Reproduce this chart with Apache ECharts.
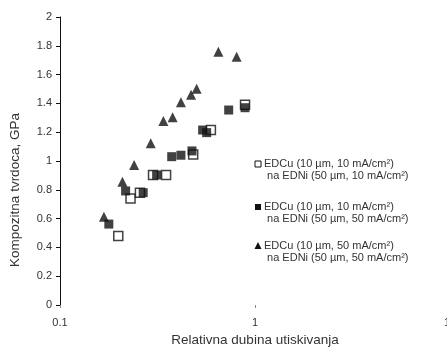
<!DOCTYPE html>
<html>
<head>
<meta charset="utf-8">
<script src="https://cdn.jsdelivr.net/npm/echarts@6/dist/echarts.min.js"></script>
<style>
html,body{margin:0;padding:0;background:#fff;}
#chart{width:447px;height:351px;}
</style>
</head>
<body>
<div id="chart"></div>
<script>
// Series 1: EDCu (10 µm, 10 mA/cm²) na EDNi (50 µm, 10 mA/cm²) – open squares
const openX = [0.199, 0.230, 0.257, 0.300, 0.350, 0.482, 0.594, 0.889];
const openY = [0.479, 0.740, 0.780, 0.903, 0.903, 1.045, 1.215, 1.390];
// Series 2: EDCu (10 µm, 10 mA/cm²) na EDNi (50 µm, 50 mA/cm²) – filled squares
const fillX = [0.178, 0.217, 0.267, 0.313, 0.374, 0.417, 0.475, 0.539, 0.565, 0.733, 0.889];
const fillY = [0.562, 0.792, 0.780, 0.903, 1.030, 1.040, 1.070, 1.215, 1.197, 1.354, 1.370];
// Series 3: EDCu (10 µm, 50 mA/cm²) na EDNi (50 µm, 50 mA/cm²) – triangles
const triX = [0.168, 0.209, 0.240, 0.292, 0.339, 0.378, 0.417, 0.470, 0.502, 0.649, 0.805];
const triY = [0.613, 0.856, 0.972, 1.123, 1.278, 1.303, 1.408, 1.460, 1.502, 1.759, 1.724];

const seriesNames = [
  'EDCu (10 µm, 10 mA/cm²)\nna EDNi (50 µm, 10 mA/cm²)',
  'EDCu (10 µm, 10 mA/cm²)\nna EDNi (50 µm, 50 mA/cm²)',
  'EDCu (10 µm, 50 mA/cm²)\nna EDNi (50 µm, 50 mA/cm²)'
];
const xAxisTitle = 'Relativna dubina utiskivanja';
const yAxisTitle = 'Kompozitna tvrdoca, GPa';

function pairs(xs, ys){ return xs.map((x,i)=>[x, ys[i]]); }

const FONT = 'Liberation Sans, Arial, sans-serif';
const chart = echarts.init(document.getElementById('chart'), null, {renderer:'canvas'});

const legendTop = [164, 207, 246];
const legendGraphics = [];
legendTop.forEach((y, i) => {
  let marker;
  if (i === 0) {
    marker = {type:'rect', shape:{x:255, y:y-3, width:6, height:6}, style:{fill:'#fff', stroke:'#111', lineWidth:1}};
  } else if (i === 1) {
    marker = {type:'rect', shape:{x:255, y:y-3, width:6, height:6}, style:{fill:'#111'}};
  } else {
    marker = {type:'polygon', shape:{points:[[258,y-4],[254.5,y+3],[261.5,y+3]]}, style:{fill:'#111'}};
  }
  legendGraphics.push(marker);
  legendGraphics.push({
    type:'text', x:264, y:y-6.5,
    style:{text: seriesNames[i].replace('\n', '\n '), fill:'#333', font:'11px ' + FONT, lineHeight:12, textVerticalAlign:'top'}
  });
});
legendGraphics.push({
  type:'text', x:15, y:190, rotation:Math.PI/2,
  style:{text:yAxisTitle, fill:'#333', font:'13.5px ' + FONT, textAlign:'center', textVerticalAlign:'middle'}
});

chart.setOption({
  backgroundColor:'#fff',
  animation:false,
  grid:{left:60, right:-3, top:17, bottom:46, containLabel:false, outerBoundsMode:'none'},
  xAxis:{
    type:'log', logBase:10, min:0.1, max:10,
    name:xAxisTitle, nameLocation:'middle', nameGap:28,
    nameTextStyle:{fontFamily:FONT, fontSize:13.5, color:'#333'},
    axisLine:{show:false},
    axisTick:{show:true, length:3, lineStyle:{color:'#888'}},
    splitLine:{show:false},
    minorTick:{show:false},
    axisLabel:{fontFamily:FONT, fontSize:11, color:'#333', margin:12}
  },
  yAxis:{
    type:'value', min:0, max:2, interval:0.2,
    axisLine:{show:true, lineStyle:{color:'#111', width:1}},
    axisTick:{show:true, length:4, lineStyle:{color:'#111'}},
    splitLine:{show:false},
    axisLabel:{fontFamily:FONT, fontSize:11, color:'#333', margin:8}
  },
  graphic: legendGraphics,
  series:[
    {name:seriesNames[0], type:'scatter', data:pairs(openX, openY), symbol:'rect', symbolSize:9,
     itemStyle:{color:'#fff', borderColor:'#111', borderWidth:1.5}, z:2},
    {name:seriesNames[1], type:'scatter', data:pairs(fillX, fillY), symbol:'rect', symbolSize:9,
     itemStyle:{color:'#111'}, z:3},
    {name:seriesNames[2], type:'scatter', data:pairs(triX, triY), symbol:'triangle', symbolSize:10,
     itemStyle:{color:'#111'}, z:4}
  ]
});
</script>
</body>
</html>
